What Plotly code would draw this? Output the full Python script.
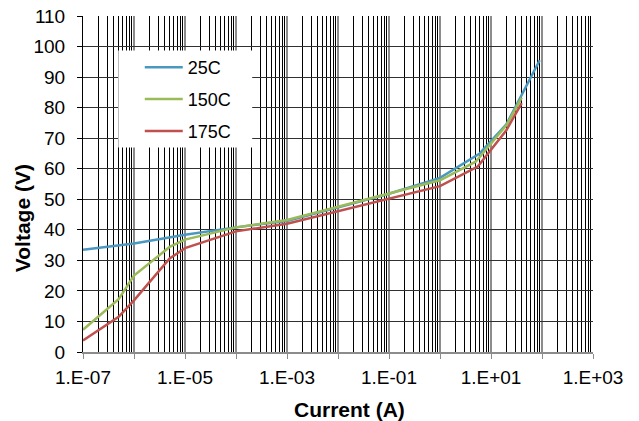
import plotly.graph_objects as go

# ---- data ----
I_25 = [1e-7, 1e-6, 1e-5, 1e-4, 1e-3, 1e-2, 1e-1, 1, 6, 20, 90]
V_25 = [33.5, 35.5, 38.4, 40.8, 42.9, 47.4, 51.8, 57.0, 65.0, 74.5, 95.5]

I_150 = [1e-7, 5e-7, 1e-6, 5e-6, 1e-5, 1e-4, 1e-3, 1e-2, 1e-1, 1, 5, 20, 40]
V_150 = [7.3, 17.3, 25.0, 34.4, 36.8, 40.8, 43.2, 47.6, 51.9, 56.2, 62.3, 74.2, 83.3]

I_175 = [1e-7, 5e-7, 1e-6, 5e-6, 1e-5, 1e-4, 1e-3, 1e-2, 1e-1, 1, 5.5, 20, 40]
V_175 = [3.8, 11.5, 16.9, 30.6, 34.0, 39.5, 42.0, 46.1, 50.2, 54.3, 60.7, 72.6, 81.5]

series_names = ["25C", "150C", "175C"]
series_colors = ["#4a98c0", "#9bbb59", "#c0504d"]

decades = list(range(-7, 4))
x_tickvals = [10.0 ** d for d in decades]
x_ticktext = []
for d in decades:
    if (d + 7) % 2 == 0:
        sign = "+" if d >= 0 else "-"
        x_ticktext.append("1.E%s%02d" % (sign, abs(d)))
    else:
        x_ticktext.append("")
minor_vals = [m * 10.0 ** d for d in decades[:-1] for m in range(2, 10)]

y_tickvals = list(range(0, 111, 10))

FONT = "Liberation Sans, Arial, sans-serif"

# body margin is removed by the post script, so figure pixels == screen pixels
W, H = 639, 421
PLOT_L, PLOT_R, PLOT_T, PLOT_B = 82.7, 593, 15.5, 351.7   # screen px
L, T = PLOT_L, PLOT_T
R, B = W - PLOT_R, H - PLOT_B
PW, PH = W - L - R, H - T - B


def px_x(sx):
    return (sx - L) / PW


def px_y(sy):
    return 1 - (sy - T) / PH


fig = go.Figure()
for name, xs, ys, col in zip(series_names, [I_25, I_150, I_175], [V_25, V_150, V_175], series_colors):
    fig.add_trace(go.Scatter(x=xs, y=ys, mode="lines", name=name, legendgroup=name,
                             line=dict(color=col, width=2.5)))

fig.update_layout(
    width=W, height=H,
    margin=dict(l=L, r=R, t=T, b=B, autoexpand=False),
    paper_bgcolor="white", plot_bgcolor="white",
    font=dict(family=FONT, size=19, color="black"),
    showlegend=True,
    legend=dict(x=px_x(139.5), y=px_y(48.5), xanchor="left", yanchor="top",
                bgcolor="rgba(0,0,0,0)", borderwidth=0, font=dict(size=18, family=FONT),
                tracegroupgap=5.5, itemwidth=38),
    shapes=[dict(type="rect", xref="paper", yref="paper", layer="above",
                 x0=px_x(118), x1=px_x(252), y0=px_y(147), y1=px_y(50),
                 fillcolor="white", line=dict(width=0))],
    xaxis=dict(type="log", range=[-7, 3], tickmode="array", tickvals=x_tickvals, ticktext=x_ticktext,
               showgrid=True, gridcolor="#8c8c8c", gridwidth=1.5,
               ticks="outside", ticklen=5, tickcolor="#8c8c8c",
               showline=True, linecolor="#8c8c8c", linewidth=1.5,
               zeroline=False, automargin=False, ticklabelstandoff=2,
               ticklabeloverflow="allow",
               minor=dict(tickmode="array", tickvals=minor_vals, showgrid=True,
                          gridcolor="#000000", gridwidth=1, ticks="")),
    yaxis=dict(range=[0, 110], tickmode="array", tickvals=y_tickvals,
               showgrid=True, gridcolor="#303030", gridwidth=1,
               ticks="outside", ticklen=5, tickcolor="#000000",
               showline=True, linecolor="#000000", linewidth=1,
               zeroline=False, ticklabelstandoff=8, automargin=False,
               ticklabeloverflow="allow"),
    annotations=[
        dict(text="<b>Current (A)</b>", xref="paper", yref="paper", x=px_x(349), y=px_y(409),
             showarrow=False, font=dict(size=21, family=FONT), xanchor="center", yanchor="middle"),
        dict(text="<b>Voltage (V)</b>", xref="paper", yref="paper", x=px_x(22.5), y=px_y(218),
             showarrow=False, textangle=-90, font=dict(size=21, family=FONT),
             xanchor="center", yanchor="middle"),
    ],
)

fig.write_html("out.html", config={"displayModeBar": False},
               post_script="document.body.style.margin='0px';document.body.style.padding='0px';")
